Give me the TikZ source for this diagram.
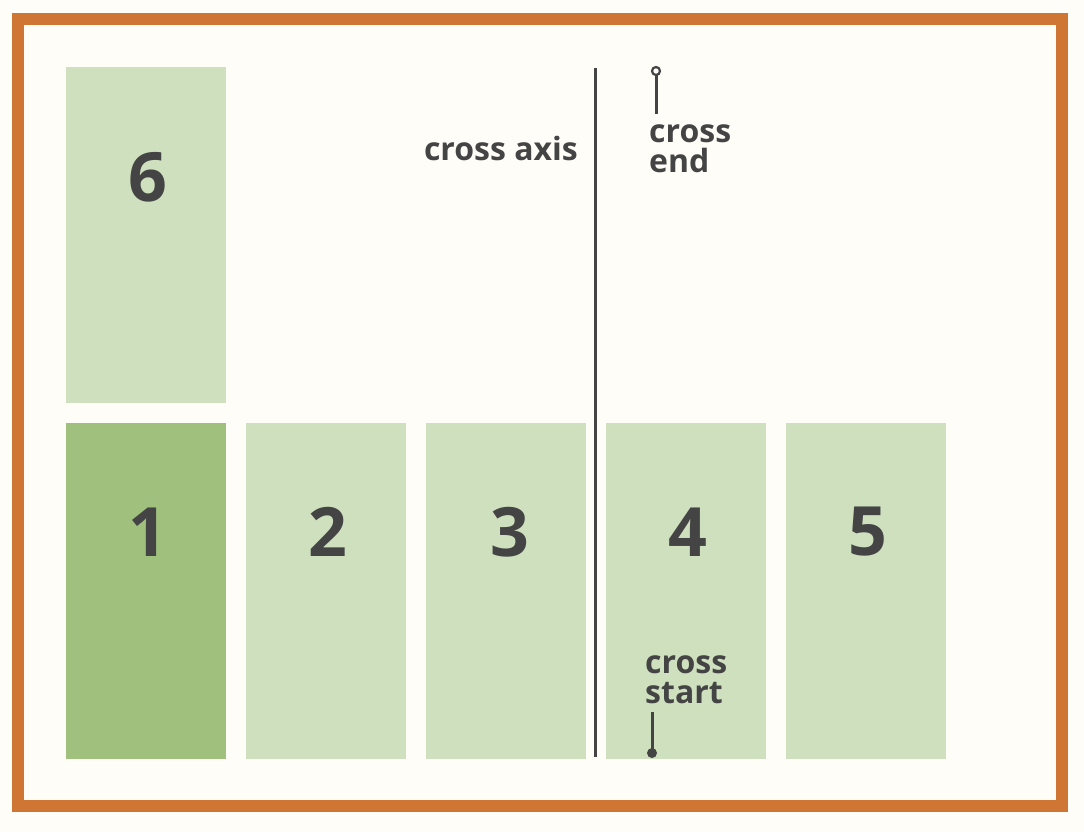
\documentclass[tikz,border=0pt]{standalone}
\usepackage{fontspec}
\setmainfont{Open Sans}
\definecolor{bgc}{HTML}{FEFDF8}
\definecolor{framec}{HTML}{D07634}
\definecolor{lightg}{HTML}{CFE0BE}
\definecolor{darkg}{HTML}{A0C07E}
\definecolor{ink}{HTML}{444444}
\begin{document}
\begin{tikzpicture}[x=1pt,y=-1pt,
  item/.style={fill=lightg,draw=none,minimum width=160pt,minimum height=336pt,inner sep=0pt,anchor=north west},
  num/.style={text=ink,font=\fontsize{68}{68}\selectfont\bfseries},
  lbl/.style={text=ink,font=\fontsize{32}{30.5}\selectfont\bfseries,inner sep=0pt,align=left},
  markline/.style={draw=ink,line width=3pt}]
\fill[bgc] (0,0) rectangle (1084,831);
\useasboundingbox (0,0) rectangle (1084,831);
\draw[framec,line width=12pt] (18,19) rectangle (1062,806);
\node[item] (n6) at (66,67) {};
\node[num] (t6) at (148,177) {6};
\node[item,fill=darkg] (n1) at (66,423) {};
\node[item] (n2) at (246,423) {};
\node[item] (n3) at (426,423) {};
\node[item] (n4) at (606,423) {};
\node[item] (n5) at (786,423) {};
\foreach \n/\x in {1/148,2/328,3/510,4/688,5/868}{
  \node[num] (t\n) at (\x,532) {\n};
}
\coordinate (axtop) at (595,68);
\coordinate (axbot) at (595,757);
\draw[ink,line width=3pt] (axtop) -- (axbot);
\node[lbl,anchor=base east] (ax) at (578,160) {cross axis};
% cross end
\coordinate (ce1) at (656,71);
\coordinate (ce2) at (656,114);
\draw[markline] (ce2) -- ([yshift=4pt]ce1);
\draw[ink,line width=2.2pt,fill=bgc] (ce1) circle (4pt);
\node[lbl,anchor=north west] (cel) at (649,124) {cross\\end};
% cross start
\coordinate (cs1) at (652,753);
\coordinate (cs2) at (652,712);
\draw[markline] (cs2) -- (cs1);
\fill[ink] (cs1) circle (5pt);
\node[lbl,anchor=north west] (csl) at (645,655) {cross\\start};
\end{tikzpicture}
\end{document}
